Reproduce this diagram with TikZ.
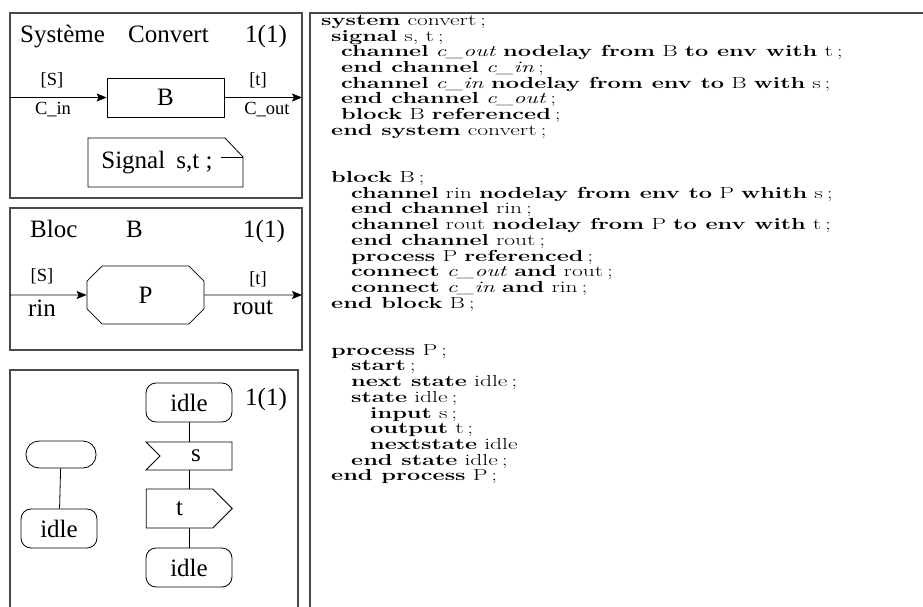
\documentclass[tikz,border=0pt]{standalone}
\usepackage{fontspec}
\newfontfamily\sdlfont{Liberation Serif}
\usetikzlibrary{positioning,arrows.meta,shapes.misc,shapes.symbols,backgrounds}
\definecolor{framegray}{HTML}{4A4A4A}

\begin{document}
\begin{tikzpicture}[x=1pt,y=-1pt,
  frame/.style={draw=framegray, line width=1.2pt},
  sdl/.style={font=\sdlfont\fontsize{25}{28}\selectfont},
  lbl/.style={font=\sdlfont\fontsize{18.5}{20}\selectfont, inner sep=0pt},
  title/.style={sdl, inner sep=0pt, anchor=base west},
  blockbox/.style={draw, line width=0.8pt, minimum width=117pt, minimum height=39pt, inner sep=0pt, sdl},
  procbox/.style={chamfered rectangle, chamfered rectangle xsep=20pt, chamfered rectangle ysep=20pt, draw, line width=0.8pt, minimum width=117pt, minimum height=58pt, inner sep=0pt, sdl},
  statebox/.style={draw, fill=white, line width=0.8pt, rounded corners=10pt, minimum width=86pt, minimum height=39pt, inner sep=0pt, sdl},
  startbox/.style={draw, line width=0.8pt, rounded corners=13pt, minimum width=70pt, minimum height=27pt, inner sep=0pt},
  inbox/.style={signal, signal from=west, signal to=nowhere, signal pointer angle=90, draw, fill=white, line width=0.8pt, minimum width=86pt, minimum height=28pt, inner sep=0pt, sdl},
  outbox/.style={signal, signal to=east, signal from=nowhere, signal pointer angle=90, draw, fill=white, line width=0.8pt, minimum width=86pt, minimum height=39pt, inner sep=0pt, sdl},
  flow/.style={-{Stealth[length=10pt,width=8pt,inset=2pt]}, line width=0.8pt},
  codeline/.style={anchor=base west, inner sep=0pt, font=\fontsize{16}{16}\selectfont}
]
\useasboundingbox (0,0) rectangle (923,607);
\clip (0,0) rectangle (923,607);

% frames
\draw[frame] (10,13) rectangle (302,198);
\draw[frame] (10,208) rectangle (302,350);
\draw[frame] (10,370) rectangle (298,625);
\draw[frame] (310,13) rectangle (935,625);

% system diagram
\node[title] (systitle) at (20,43) {Système};
\node[title] (sysname) at (128,43) {Convert};
\node[title] (syspage) at (245,43) {1(1)};
\node[blockbox] (blkB) at (165.5,97.5) {B};
\coordinate (envin) at (10,97.5);
\coordinate (envout) at (302,97.5);
\draw[flow] (envin) -- (blkB);
\draw[flow] (blkB) -- (envout);
\node[lbl] (cinsig) at (52,80) {[S]};
\node[lbl] (cinname) at (53,110) {C\_in};
\node[lbl] (coutsig) at (258,80) {[t]};
\node[lbl] (coutname) at (267,110) {C\_out};
% text symbol
\draw[line width=0.8pt] (88,138) -- (225,138) -- (243,157) -- (243,187) -- (88,187) -- cycle;
\draw[line width=0.8pt] (221,157) -- (243,157);
\node[sdl, inner sep=0pt] (sigdecl) at (157,163) {Signal\hspace{.45em}s,t ;};

% block diagram
\node[title] (bloctitle) at (30,237) {Bloc};
\node[title] (blocname) at (126,237) {B};
\node[title] (blocpage) at (243,237) {1(1)};
\node[procbox] (procP) at (145.5,295) {P};
\coordinate (rinend) at (10,295);
\coordinate (routend) at (302,295);
\draw[flow] (rinend) -- (procP);
\draw[flow] (procP) -- (routend);
\node[lbl] (rinsig) at (42,276) {[S]};
\node[sdl, inner sep=0pt] (rinname) at (42,308) {rin};
\node[lbl] (routsig) at (258,279) {[t]};
\node[sdl, inner sep=0pt] (routname) at (253,308) {rout};

% process diagram
\node[statebox] (idleA) at (189,402.5) {idle};
\node[sdl, inner sep=0pt] (procpage) at (266,399) {1(1)};
\node[startbox] (startP) at (61,454.5) {};
\node[statebox, minimum width=76pt] (idleL) at (59,528.5) {idle};
\node[inbox] (inS) at (196,456) {s};
\node[outbox] (outT) at (179.5,508.5) {t};
\node[statebox] (idleB) at (189,567.5) {idle};
\draw[line width=0.8pt] (startP) -- (idleL);
\begin{pgfonlayer}{background}
\draw[line width=0.8pt] (idleA) -- (idleB);
\end{pgfonlayer}

% SDL/PR text
\foreach \cx/\cr/\ctext in {
  321/0/{\textbf{system} convert\,;},
  331/1/{\textbf{signal} s, t\,;},
  341/2/{\textbf{channel} \textit{c\_out} \textbf{nodelay from} B \textbf{to env with} t\,;},
  341/3/{\textbf{end channel} \textit{c\_in}\,;},
  341/4/{\textbf{channel} \textit{c\_in} \textbf{nodelay from env to} B \textbf{with} s\,;},
  341/5/{\textbf{end channel} \textit{c\_out}\,;},
  341/6/{\textbf{block} B \textbf{referenced}\,;},
  331/7/{\textbf{end system} convert\,;},
  331/10/{\textbf{block} B\,;},
  351/11/{\textbf{channel} rin \textbf{nodelay from env to} P \textbf{whith} s\,;},
  351/12/{\textbf{end channel} rin\,;},
  351/13/{\textbf{channel} rout \textbf{nodelay from} P \textbf{to env with} t\,;},
  351/14/{\textbf{end channel} rout\,;},
  351/15/{\textbf{process} P \textbf{referenced}\,;},
  351/16/{\textbf{connect} \textit{c\_out} \textbf{and} rout\,;},
  351/17/{\textbf{connect} \textit{c\_in} \textbf{and} rin\,;},
  331/18/{\textbf{end block} B\,;},
  331/21/{\textbf{process} P\,;},
  351/22/{\textbf{start}\,;},
  351/23/{\textbf{next state} idle\,;},
  351/24/{\textbf{state} idle\,;},
  370/25/{\textbf{input} s\,;},
  370/26/{\textbf{output} t\,;},
  370/27/{\textbf{nextstate} idle},
  351/28/{\textbf{end state} idle\,;},
  331/29/{\textbf{end process} P\,;}}
  \node[codeline] (code\cr) at (\cx,{25.5+15.7*\cr}) {\scalebox{1.47}[1]{\ctext}};
\end{tikzpicture}
\end{document}
